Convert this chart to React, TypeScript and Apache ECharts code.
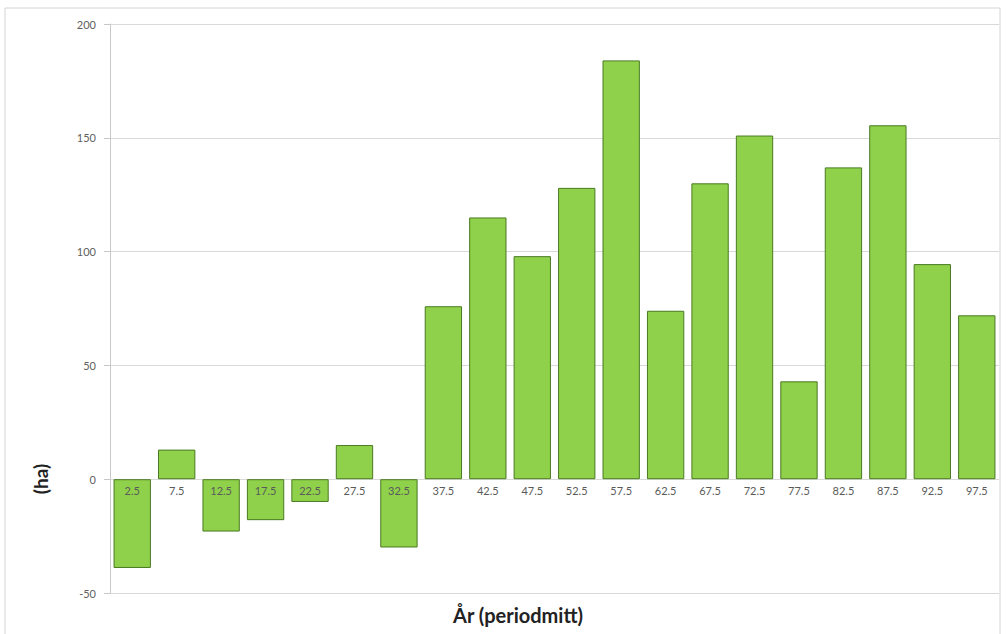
import React, { useEffect, useRef } from "react";
import * as echarts from "echarts";

const categories = ["2.5","7.5","12.5","17.5","22.5","27.5","32.5","37.5","42.5","47.5","52.5","57.5","62.5","67.5","72.5","77.5","82.5","87.5","92.5","97.5"];
const values = [-39, 13, -23, -18, -10, 15, -30, 76, 115, 98, 128, 184, 74, 130, 151, 43, 137, 155.5, 94.5, 72];
const yTicks = { min: -50, max: 200, interval: 50 };
const yAxisTitle = "(ha)";
const xAxisTitle = "År (periodmitt)";

const FONT = "Lato, 'Open Sans', sans-serif";

export default function App() {
  const ref = useRef<HTMLDivElement>(null);
  useEffect(() => {
    if (!ref.current) return;
    const chart = echarts.init(ref.current, undefined, { renderer: "svg" });
    chart.setOption({
      animation: false,
      backgroundColor: "#ffffff",
      textStyle: { fontFamily: FONT },
      grid: { left: 110, right: 7, top: 24, bottom: 41, containLabel: false },
      xAxis: {
        type: "category",
        data: categories,
        axisLine: { show: false },
        axisTick: { show: false },
        axisLabel: { show: false },
        splitLine: { show: false },
      },
      yAxis: {
        type: "value",
        min: yTicks.min,
        max: yTicks.max,
        interval: yTicks.interval,
        axisLine: { show: true, lineStyle: { color: "#c8c8c8" } },
        axisTick: { show: true, inside: false, length: 6, lineStyle: { color: "#c8c8c8" } },
        axisLabel: { color: "#606060", fontSize: 11, margin: 14, fontFamily: FONT },
        splitLine: { show: true, lineStyle: { color: "#d9d9d9", width: 1 } },
      },
      series: [
        {
          type: "bar",
          data: values,
          barCategoryGap: "16%",
          itemStyle: { color: "#8fd14a", borderColor: "#4a7a22", borderWidth: 1 },
          z: 2,
        },
        {
          type: "scatter",
          data: categories.map((c) => [c, 0]),
          symbol: "circle",
          symbolSize: 2,
          itemStyle: { color: "rgba(0,0,0,0)", borderWidth: 0 },
          silent: true,
          z: 5,
          labelLayout: { hideOverlap: false },
          label: {
            show: true,
            position: "bottom",
            distance: 5,
            formatter: (p: any) => p.value[0],
            color: "#5a5a5a",
            opacity: 1,
            fontSize: 11,
            fontFamily: FONT,
          },
        },
      ],
      graphic: [
        {
          type: "rect",
          shape: { x: 5, y: 8, width: 995, height: 630 },
          style: { fill: "none", stroke: "#d4d4d4", lineWidth: 1 },
          silent: true,
          z: -10,
        },
        {
          type: "text",
          x: 40,
          y: 479,
          rotation: Math.PI / 2,
          style: {
            text: yAxisTitle,
            fontSize: 19,
            fontWeight: "bold",
            fill: "#222222",
            fontFamily: FONT,
            align: "center",
            verticalAlign: "middle",
          },
        },
        {
          type: "text",
          x: 518,
          y: 615,
          style: {
            text: xAxisTitle,
            fontSize: 20,
            fontWeight: "bold",
            fill: "#222222",
            fontFamily: FONT,
            align: "center",
            verticalAlign: "middle",
          },
        },
      ],
    });
    return () => chart.dispose();
  }, []);
  return (
    <div
      ref={ref}
      style={{ position: "fixed", left: 0, top: 0, width: 1006, height: 634 }}
    />
  );
}
